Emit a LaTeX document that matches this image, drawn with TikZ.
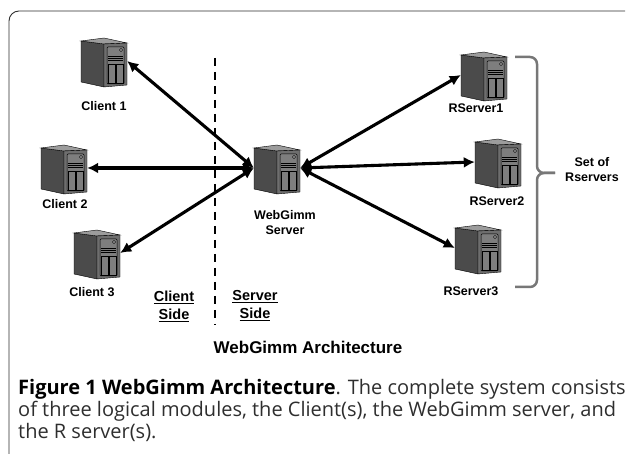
\documentclass[tikz,border=0pt]{standalone}
\usepackage{fontspec}
\setmainfont{Liberation Sans}
\newfontfamily\capfont{Open Sans}
\usetikzlibrary{arrows.meta,positioning}
\definecolor{sidegray}{HTML}{4B4B4B}
\definecolor{topgray}{HTML}{9C9C9C}
\definecolor{frontgray}{HTML}{6E6E6E}
\definecolor{panelgray}{HTML}{7E7E7E}
\definecolor{bracegray}{HTML}{777777}
\definecolor{capgray}{HTML}{2E2E2E}
\tikzset{font=\bfseries\fontsize{12.5}{14}\selectfont}
\tikzset{
  tower/.pic={
    \draw[fill=sidegray,line width=0.4pt] (-23,20)--(0,17)--(0,-26)--(-23,-21)--cycle;
    \draw[fill=topgray,line width=0.4pt] (-23,20)--(0,23)--(23,18)--(0,17)--cycle;
    \draw[fill=frontgray,line width=0.4pt] (0,17)--(23,18)--(23,-24)--(0,-26)--cycle;
    \draw[fill=panelgray,line width=0.5pt,rounded corners=1pt] (3,-23) rectangle (20,14);
    \draw[fill=topgray,line width=0.3pt] (17,11) circle (1.6);
    \foreach \y in {1,3,5}{
      \draw[line width=0.4pt] (4,\y)--(19,\y);
    };
    \draw[line width=0.5pt] (4,-22) rectangle (11,-3);
    \draw[line width=0.5pt] (12,-22) rectangle (19,-3);
    \node[inner sep=0pt,minimum width=46pt,minimum height=52pt] (-b) at (0,0) {};
  },
  biarrow/.style={line width=3.1pt,{Latex[length=11pt,width=11pt]}-{Latex[length=11pt,width=11pt]}},
  sidelbl/.style={align=center,font=\bfseries\fontsize{14.5}{18}\selectfont},
  capline/.style={anchor=base west,inner sep=0pt,font=\capfont\fontsize{20}{22}\selectfont,text=capgray}
}
\begin{document}
\begin{tikzpicture}[x=1pt,y=1pt]
  \useasboundingbox (0,0) rectangle (627,454);
  \draw[capgray,line width=0.9pt,rounded corners=10pt] (9,0)--(9,443)--(625,443);
  % clients
  \pic (c1) at (104,393) {tower};
  \pic (c2) at (64,286) {tower};
  \pic (c3) at (97,201) {tower};
  % web server
  \pic (ws) at (277,286) {tower};
  % R servers
  \pic (r1) at (484,379) {tower};
  \pic (r2) at (498,292) {tower};
  \pic (r3) at (478,206) {tower};
  \draw[line width=1.6pt,dash pattern=on 8pt off 6pt] (215,396)--(215,129);
  \foreach \c in {c1,c2,c3}{
    \draw[biarrow] (ws-b.west)--(\c-b.east);
  };
  \foreach \r in {r1,r2,r3}{
    \draw[biarrow] (ws-b.east)--(\r-b.west);
  };
  \draw (104,348) node (c1lbl) {Client 1};
  \draw (65,250) node (c2lbl) {Client 2};
  \draw (92,162) node (c3lbl) {Client 3};
  \draw (285,231) node[align=center,font=\bfseries\fontsize{12.5}{15}\selectfont] (wslbl) {WebGimm\\Server};
  \draw (476,346) node (r1lbl) {RServer1};
  \draw (497,253) node (r2lbl) {RServer2};
  \draw (471,163) node (r3lbl) {RServer3};
  \draw (174,148) node[sidelbl] (clside) {\underline{Client}\\\underline{Side}};
  \draw (255,148) node[sidelbl] (svside) {\underline{Server}\\\underline{Side}};
  % bracket round the R servers
  \draw[bracegray,line width=2.5pt,rounded corners=7pt] (515,397)--(537,397)--(537,281)--(555,281);
  \draw[bracegray,line width=2.5pt,rounded corners=7pt] (515,167)--(537,167)--(537,281)--(555,281);
  \draw (592,284) node[align=center,font=\bfseries\fontsize{12.5}{15}\selectfont] (rset) {Set of\\Rservers};
  \draw (308,107) node[font=\bfseries\fontsize{17}{20}\selectfont] (title) {WebGimm Architecture};
  % caption
  \draw (18,59) node[capline] (cap1)
    {\textbf{\color{black}Figure 1 WebGimm Architecture}. The complete system consists};
  \draw (18,37) node[capline] (cap2)
    {of three logical modules, the Client(s), the WebGimm server, and};
  \draw (18,15) node[capline] (cap3)
    {the R server(s).};
\end{tikzpicture}
\end{document}
